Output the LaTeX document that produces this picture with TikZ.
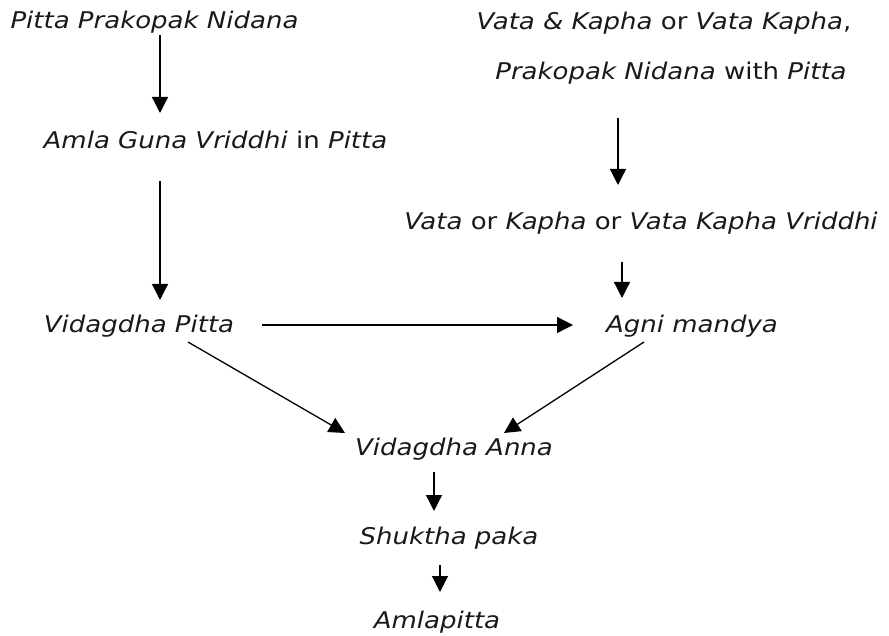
\documentclass[tikz,border=0pt]{standalone}
\usepackage{fontspec}
\setmainfont{DejaVu Sans}[FakeStretch=1.13]
\usetikzlibrary{arrows.meta,calc}
\begin{document}
\begin{tikzpicture}[x=1pt,y=-1pt,
  lbl/.style={anchor=base,inner sep=0pt,font=\fontsize{23}{28}\selectfont,text=black!90},
  arr/.style={line width=1.3pt,-{Triangle[length=16pt,width=16pt]}}]
\useasboundingbox (0,0) rectangle (889,636);
\node[lbl] (n1) at (154.5,29) {\textit{Pitta Prakopak Nidana}};
\node[lbl] (n2) at (215.5,149) {\textit{Amla Guna Vriddhi} in \textit{Pitta}};
\node[lbl] (n3) at (664,30) {\textit{Vata \& Kapha} or \textit{Vata Kapha},};
\node[lbl] (n3b) at (671,80) {\textit{Prakopak Nidana} with \textit{Pitta}};
\node[lbl] (n4) at (641,230) {\textit{Vata} or \textit{Kapha} or \textit{Vata Kapha Vriddhi}};
\node[lbl] (n5) at (139,333) {\textit{Vidagdha Pitta}};
\node[lbl] (n6) at (692,333) {\textit{Agni mandya}};
\node[lbl] (n7) at (454,455) {\textit{Vidagdha Anna}};
\node[lbl] (n8) at (449,544) {\textit{Shuktha paka}};
\node[lbl] (n9) at (437,628) {\textit{Amlapitta}};
\draw[arr] ($(n1.base)+(5.5,6)$) -- ($(n2.base)+(-55.5,-36)$);
\draw[arr] ($(n2.base)+(-55.5,32)$) -- ($(n5.base)+(21,-33)$);
\draw[arr] ($(n3b.base)+(-53,38)$) -- ($(n4.base)+(-23,-45)$);
\draw[arr] ($(n4.base)+(-19,32)$) -- ($(n6.base)+(-70,-35)$);
\draw[arr] ($(n5.base)+(123,-8)$) -- ($(n6.base)+(-119,-8)$);
\draw[arr] ($(n5.base)+(49,9)$) -- ($(n7.base)+(-109,-22)$);
\draw[arr] ($(n6.base)+(-48,9)$) -- ($(n7.base)+(50,-22)$);
\draw[arr] ($(n7.base)+(-20,17)$) -- ($(n8.base)+(-15,-33)$);
\draw[arr] ($(n8.base)+(-9,21)$) -- ($(n9.base)+(3,-36)$);
\end{tikzpicture}
\end{document}
